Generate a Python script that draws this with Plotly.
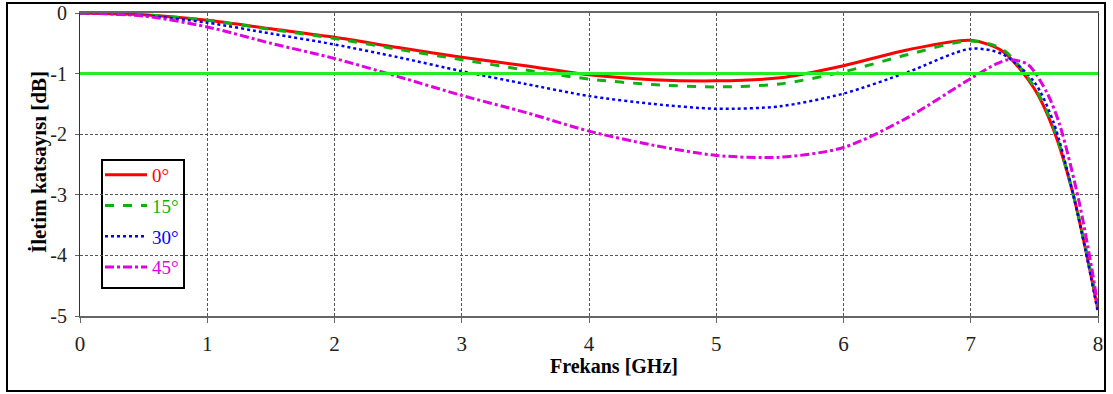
import plotly.graph_objects as go

# Frequency sweep [GHz] and transmission coefficient [dB] for each incidence angle
freq = [0, 0.5, 1, 1.5, 2, 2.5, 3, 3.5, 4, 4.5, 5, 5.5, 6, 6.5, 7, 7.25, 7.5, 7.65, 7.8, 7.9, 8]
s21_0 = [0, -0.03, -0.12, -0.26, -0.40, -0.57, -0.73, -0.87, -1.02, -1.10, -1.12, -1.07, -0.87, -0.61, -0.45,
         -0.63, -1.25, -1.92, -2.95, -3.88, -4.90]
s21_15 = [0, -0.03, -0.12, -0.27, -0.42, -0.60, -0.77, -0.94, -1.09, -1.18, -1.22, -1.17, -0.97, -0.69, -0.46,
          -0.60, -1.22, -1.88, -2.95, -3.85, -4.85]
s21_30 = [0, -0.04, -0.16, -0.34, -0.52, -0.73, -0.96, -1.17, -1.37, -1.50, -1.58, -1.54, -1.33, -0.98, -0.59,
          -0.68, -1.14, -1.80, -2.95, -3.90, -4.95]

freq_45 = [0, 0.5, 1, 1.5, 2, 2.5, 3, 3.5, 4, 4.5, 5, 5.5, 6, 6.5, 7, 7.2, 7.3, 7.45, 7.6, 7.7, 7.85, 7.95, 8]
s21_45 = [0, -0.05, -0.23, -0.50, -0.75, -1.05, -1.36, -1.64, -1.95, -2.18, -2.35, -2.38, -2.22, -1.73, -1.08,
          -0.84, -0.77, -0.85, -1.32, -1.85, -3.10, -4.20, -4.85]

# -1 dB reference level
ref_x = [0, 8]
ref_level = [-1, -1]

x_ticks = [0, 1, 2, 3, 4, 5, 6, 7, 8]
y_ticks = [0, -1, -2, -3, -4, -5]
y_tick_text = ["0", "-1", "-2", "-3", "-4", "-5"]

SERIF = "Liberation Serif"
W, H = 1113, 394
L, R, T, B = 80, 15, 13, 78
pw, ph = W - L - R, H - T - B


def px_x(p):
    return (p - L) / pw


def px_y(p):
    return (H - B - p) / ph


series = [
    ("0°", freq, s21_0, "#ff0000", "solid", 3),
    ("15°", freq, s21_15, "#11b011", "dash", 3),
    ("30°", freq, s21_30, "#0000ff", "dot", 2.5),
    ("45°", freq_45, s21_45, "#e000e0", "dashdot", 3),
]

fig = go.Figure()
for i, (name, xs, ys, color, dash, width) in enumerate(series):
    fig.add_trace(go.Scatter(
        x=xs, y=ys, mode="lines", legendgroup=f"g{i}",
        name=f"<span style='color:{color}'>{name}</span>",
        line=dict(color=color, dash=dash, width=width, shape="spline", smoothing=0.8),
    ))

fig.add_trace(go.Scatter(x=ref_x, y=ref_level, mode="lines", showlegend=False,
                         line=dict(color="#22ee22", width=3)))

axis_common = dict(
    showgrid=True, gridcolor="#555555", gridwidth=1, griddash="3px,2px",
    zeroline=False, ticks="outside", showline=True, mirror=True,
)

fig.update_xaxes(range=[0, 8], tickvals=x_ticks, linecolor="#666666", linewidth=1.5,
                 ticklen=5, tickcolor="#666666", ticklabelstandoff=3,
                 tickfont=dict(family=SERIF, size=21, color="#222222"), **axis_common)
fig.update_yaxes(range=[-5, 0], tickvals=y_ticks, ticktext=y_tick_text, linecolor="#333333",
                 linewidth=1.2, ticklen=4, tickcolor="#666666", ticklabelstandoff=4,
                 tickfont=dict(family=SERIF, size=20, color="#222222"), **axis_common)

fig.update_layout(
    width=W, height=H,
    font=dict(family=SERIF, size=19, color="black"),
    margin=dict(l=L, r=R, t=T, b=B, autoexpand=False),
    paper_bgcolor="white", plot_bgcolor="white",
    showlegend=True,
    legend=dict(
        x=px_x(100), y=px_y(156), xanchor="left", yanchor="top",
        bgcolor="rgba(0,0,0,0)", borderwidth=0, itemwidth=42,
        font=dict(family=SERIF, size=19), tracegroupgap=3,
    ),
    annotations=[
        dict(text="<b>Frekans [GHz]</b>", xref="paper", yref="paper",
             x=px_x(614), y=px_y(379), showarrow=False,
             font=dict(family=SERIF, size=20, color="black")),
        dict(text="<b>İletim katsayısı [dB]</b>", xref="paper", yref="paper",
             x=px_x(25), y=px_y(162), showarrow=False, textangle=-90,
             font=dict(family=SERIF, size=21, color="black")),
    ],
    shapes=[
        # legend frame
        dict(type="rect", xref="paper", yref="paper", layer="between",
             x0=px_x(102), x1=px_x(184), y0=px_y(288), y1=px_y(160),
             line=dict(color="black", width=2), fillcolor="white"),
        # outer figure frame
        dict(type="rect", xref="paper", yref="paper",
             x0=px_x(7), x1=px_x(1105), y0=px_y(391), y1=px_y(3),
             line=dict(color="black", width=2)),
    ],
)

fig.write_html("out.html")
